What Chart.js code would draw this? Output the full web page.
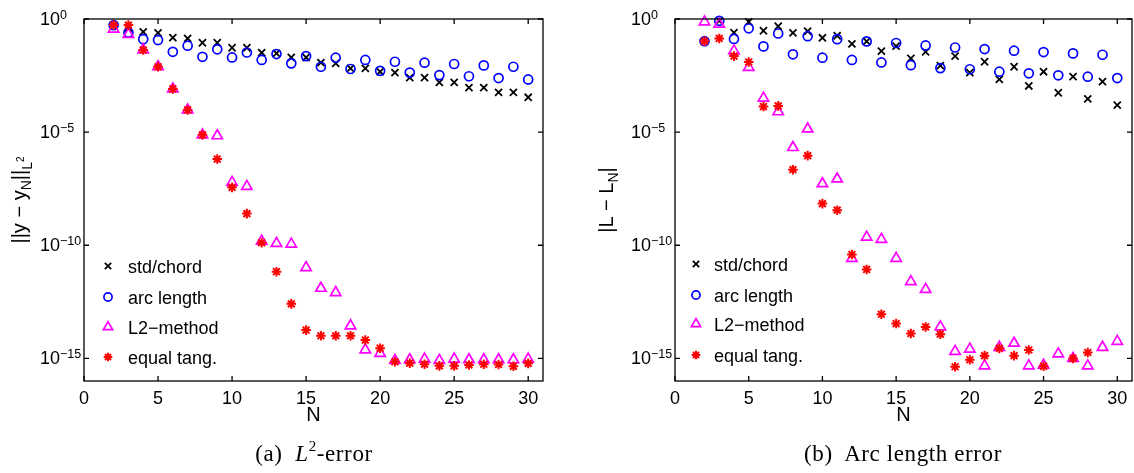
<!DOCTYPE html>
<html>
<head>
<meta charset="utf-8">
<script src="https://cdn.jsdelivr.net/npm/chart.js@4/dist/chart.umd.min.js"></script>
<style>
  html, body { margin: 0; padding: 0; background: #fff; }
  #wrap { position: relative; width: 1134px; height: 473px; overflow: hidden; }
  canvas { position: absolute; top: 0; }
  #cvA { left: 0; }
  #cvB { left: 567px; }
  .cap {
    position: absolute; top: 441px; white-space: nowrap;
    font-family: "Liberation Serif", "Times New Roman", serif;
    font-size: 23px; letter-spacing: 0.6px; line-height: 26px;
    transform: translateX(-50%);
  }
  .cap .sup { font-size: 15px; position: relative; top: -10px; }
</style>
</head>
<body>
<div id="wrap">
  <canvas id="cvA" width="567" height="473"></canvas>
  <canvas id="cvB" width="567" height="473"></canvas>
  <div class="cap" style="left:314px">(a)&nbsp; <i>L</i><span class="sup">2</span>-error</div>
  <div class="cap" style="left:903px">(b)&nbsp; Arc length error</div>
</div>
<script>
'use strict';

// ---- data (log10 of the error) ----
const nValues = [2, 3, 4, 5, 6, 7, 8, 9, 10, 11, 12, 13, 14, 15, 16,
                 17, 18, 19, 20, 21, 22, 23, 24, 25, 26, 27, 28, 29, 30];

// (a) L2-error
const l2Std  = [-0.27, -0.40, -0.57, -0.61, -0.82, -0.86, -1.05, -1.05, -1.27, -1.27,
                -1.49, -1.52, -1.70, -1.70, -1.93, -1.96, -2.18, -2.18, -2.33, -2.37,
                -2.59, -2.59, -2.80, -2.80, -3.03, -3.03, -3.24, -3.24, -3.46];
const l2Arc  = [-0.27, -0.60, -0.89, -0.93, -1.45, -1.18, -1.67, -1.34, -1.70, -1.48,
                -1.81, -1.55, -1.96, -1.64, -2.11, -1.71, -2.21, -1.81, -2.29, -1.89,
                -2.37, -1.93, -2.48, -1.99, -2.53, -2.05, -2.61, -2.11, -2.67];
const l2L2   = [-0.45, -0.68, -1.37, -2.11, -3.09, -4.02, -5.12, -5.16, -7.22, -7.40,
                -9.82, -9.92, -9.95, -10.99, -11.90, -12.09, -13.56, -14.62, -14.78, -15.09,
                -15.06, -15.03, -15.09, -15.03, -15.06, -15.06, -15.06, -15.06, -15.03];
const l2Tang = [-0.27, -0.27, -1.37, -2.11, -3.09, -4.02, -5.12, -6.19, -7.44, -8.60,
                -9.89, -11.17, -12.59, -13.75, -14.00, -14.00, -14.00, -14.19, -14.55, -15.15,
                -15.21, -15.26, -15.33, -15.33, -15.29, -15.26, -15.27, -15.35, -15.22];

// (b) arc length error
const arcStd  = [-0.98, -0.08, -0.60, -0.13, -0.52, -0.32, -0.61, -0.54, -0.83, -0.74,
                 -1.10, -0.99, -1.42, -1.20, -1.74, -1.45, -2.06, -1.64, -2.37, -1.89,
                 -2.67, -2.11, -2.96, -2.33, -3.26, -2.55, -3.53, -2.77, -3.81];
const arcArc  = [-0.98, -0.08, -0.88, -0.41, -1.21, -0.64, -1.56, -0.76, -1.71, -0.89,
                 -1.81, -0.99, -1.92, -1.06, -2.04, -1.17, -2.17, -1.26, -2.22, -1.33,
                 -2.33, -1.40, -2.40, -1.46, -2.49, -1.52, -2.55, -1.58, -2.61];
const arcL2   = [-0.13, -0.23, -1.41, -2.14, -3.50, -4.10, -5.68, -4.86, -7.28, -7.07,
                 -10.58, -9.64, -9.74, -10.58, -11.61, -11.95, -13.61, -14.69, -14.59, -15.33,
                 -14.51, -14.33, -15.33, -15.30, -14.80, -15.00, -15.33, -14.51, -14.25];
const arcTang = [-0.98, -0.86, -1.64, -1.90, -3.87, -3.84, -6.66, -6.04, -8.16, -8.45,
                 -10.41, -11.07, -13.05, -13.46, -13.90, -13.61, -13.93, -15.37, -15.06, -14.88,
                 -14.56, -14.88, -14.63, -15.35, null, -15.00, -14.74, null, null];

const seriesNames = ['std/chord', 'arc length', 'L2\u2212method', 'equal tang.'];
const xTicks   = [0, 5, 10, 15, 20, 25, 30];
const yTickExp = [0, -5, -10, -15];

// ---- marker styles, MATLAB-ish ----
const STYLES = [
  { pointStyle: 'crossRot', radius: 5.0, borderWidth: 1.8, color: '#000000' },
  { pointStyle: 'circle',   radius: 4.5, borderWidth: 1.7, color: '#0000ff' },
  { pointStyle: 'triangle', radius: 6.0, borderWidth: 1.7, color: '#ff00ff' },
  { pointStyle: 'star',     radius: 4.8, borderWidth: 2.0, color: '#ff0000' },
];

const FONT = '"Liberation Sans", Arial, Helvetica, sans-serif';

function buildDatasets(series) {
  return series.map((logs, i) => {
    const st = STYLES[i];
    return {
      label: seriesNames[i],
      data: nValues.map((n, j) => ({ x: n, y: logs[j] == null ? null : Math.pow(10, logs[j]) })),
      pointStyle: st.pointStyle,
      pointRadius: st.radius,
      pointBorderWidth: st.borderWidth,
      pointBorderColor: st.color,
      pointBackgroundColor: 'rgba(0,0,0,0)',
      showLine: false,
      clip: false,
      order: 3 - i,   // later series on top, like MATLAB
    };
  });
}

// draw a run of text pieces (for sub/superscripts), left to right from x
function drawPieces(ctx, parts, x, y) {
  parts.forEach(p => {
    ctx.font = p.size + 'px ' + FONT;
    ctx.fillText(p.t, x, y + (p.dy || 0));
    x += ctx.measureText(p.t).width + (p.gap || 0);
  });
}

function piecesWidth(ctx, parts) {
  return parts.reduce((w, p) => {
    ctx.font = p.size + 'px ' + FONT;
    return w + ctx.measureText(p.t).width + (p.gap || 0);
  }, 0);
}

// frame, inward ticks, tick labels, axis titles and legend
const matlabAxes = {
  id: 'matlabAxes',
  afterDraw(chart, args, o) {
    const { ctx, chartArea: a } = chart;
    const xs = chart.scales.x, ys = chart.scales.y;
    ctx.save();

    ctx.strokeStyle = '#000';
    ctx.lineWidth = 1.3;
    ctx.strokeRect(a.left, a.top, a.right - a.left, a.bottom - a.top);

    ctx.beginPath();
    xTicks.forEach(v => {
      const px = xs.getPixelForValue(v);
      ctx.moveTo(px, a.bottom); ctx.lineTo(px, a.bottom - 5);
      ctx.moveTo(px, a.top);    ctx.lineTo(px, a.top + 5);
    });
    yTickExp.forEach(e => {
      const py = ys.getPixelForValue(Math.pow(10, e));
      ctx.moveTo(a.left, py);  ctx.lineTo(a.left + 5, py);
      ctx.moveTo(a.right, py); ctx.lineTo(a.right - 5, py);
    });
    ctx.stroke();

    ctx.fillStyle = '#000';
    ctx.textBaseline = 'alphabetic';

    // x tick labels
    ctx.textAlign = 'center';
    ctx.font = '18px ' + FONT;
    xTicks.forEach(v => ctx.fillText(String(v), xs.getPixelForValue(v), a.bottom + 23));

    // y tick labels 10^e
    ctx.textAlign = 'left';
    yTickExp.forEach(e => {
      const py = ys.getPixelForValue(Math.pow(10, e));
      const exp = e === 0 ? '0' : '\u2212' + String(-e);
      drawPieces(ctx, [
        { t: '10', size: 18, dy: 6 },
        { t: exp, size: 12.5, dy: -0.5 },
      ], a.left - 44, py);
    });

    // x title
    ctx.textAlign = 'center';
    ctx.font = '20px ' + FONT;
    ctx.fillText('N', (a.left + a.right) / 2, a.bottom + 40);

    // y title, rotated
    ctx.save();
    ctx.translate(o.yTitleX, (a.top + a.bottom) / 2);
    ctx.rotate(-Math.PI / 2);
    ctx.textAlign = 'left';
    const w = piecesWidth(ctx, o.yTitle);
    drawPieces(ctx, o.yTitle, -w / 2, 0);
    ctx.restore();

    // legend
    ctx.textAlign = 'left';
    seriesNames.forEach((name, i) => {
      const st = STYLES[i];
      const ry = a.bottom - o.legendRows[i];
      ctx.strokeStyle = st.color;
      ctx.fillStyle = 'rgba(0,0,0,0)';
      ctx.lineWidth = st.borderWidth;
      Chart.helpers.drawPoint(ctx, {
        pointStyle: st.pointStyle, radius: st.radius * 0.9, borderWidth: st.borderWidth, rotation: 0,
      }, a.left + o.legendMarkX, ry);
      ctx.fillStyle = '#000';
      ctx.font = '18px ' + FONT;
      ctx.fillText(name, a.left + o.legendTextX, ry + 6.5);
    });

    ctx.restore();
  },
};

function makeChart(canvasId, series, padding, axisOpts) {
  return new Chart(document.getElementById(canvasId), {
    type: 'scatter',
    data: { datasets: buildDatasets(series) },
    plugins: [matlabAxes],
    options: {
      responsive: false,
      animation: false,
      events: [],
      layout: { padding, autoPadding: false },
      scales: {
        x: { type: 'linear', min: 0, max: 31, display: false },
        y: { type: 'logarithmic', min: 1e-16, max: 1, display: false },
      },
      plugins: {
        legend: { display: false },
        tooltip: { enabled: false },
        matlabAxes: axisOpts,
      },
    },
  });
}

makeChart('cvA', [l2Std, l2Arc, l2L2, l2Tang],
  { left: 84, top: 19, right: 24, bottom: 92 },
  {
    yTitleX: 26,
    yTitle: [
      { t: '||y \u2212 y', size: 20 },
      { t: 'N', size: 14, dy: 5 },
      { t: '||', size: 20 },
      { t: 'L', size: 14, dy: 6 },
      { t: '2', size: 10, dy: -2 },
    ],
    legendMarkX: 24, legendTextX: 44,
    legendRows: [115, 84, 54, 24],
  });

makeChart('cvB', [arcStd, arcArc, arcL2, arcTang],
  { left: 108, top: 19, right: 2, bottom: 92 },
  {
    yTitleX: 46,
    yTitle: [
      { t: '|L \u2212 L', size: 20 },
      { t: 'N', size: 14, dy: 5 },
      { t: '|', size: 20 },
    ],
    legendMarkX: 21, legendTextX: 39,
    legendRows: [117, 86, 57, 26],
  });
</script>
</body>
</html>
